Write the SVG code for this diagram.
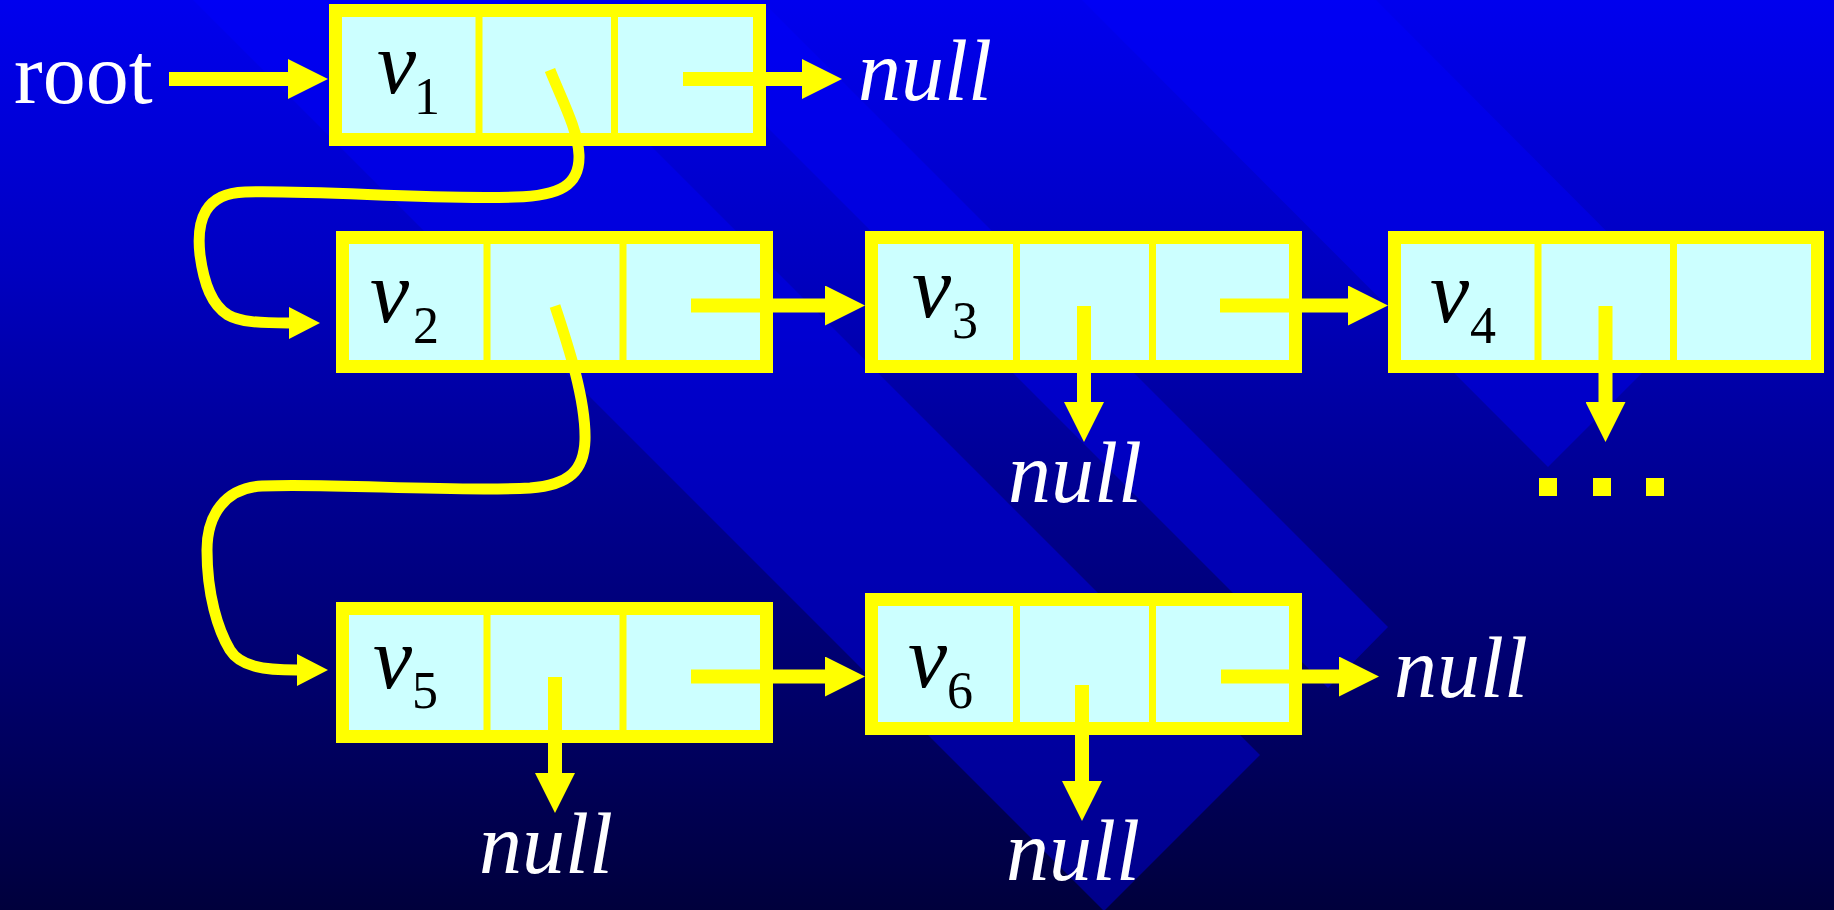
<svg xmlns="http://www.w3.org/2000/svg" width="1834" height="910" viewBox="0 0 1834 910">
<defs>
<linearGradient id="bg" x1="0" y1="0" x2="0" y2="1">
<stop offset="0" stop-color="#0000ee"/>
<stop offset="0.3" stop-color="#0000c0"/>
<stop offset="0.48" stop-color="#00009c"/>
<stop offset="0.77" stop-color="#000068"/>
<stop offset="1" stop-color="#00003c"/>
</linearGradient>
<marker id="ah" markerUnits="userSpaceOnUse" markerWidth="40" markerHeight="40" viewBox="0 0 40 40" refX="0" refY="20" orient="auto">
<path d="M0,0 L40,20 L0,40 z" fill="#ffff00"/>
</marker>
<marker id="ahs" markerUnits="userSpaceOnUse" markerWidth="31" markerHeight="32" viewBox="0 0 31 32" refX="0" refY="16" orient="auto">
<path d="M0,0 L31,16 L0,32 z" fill="#ffff00"/>
</marker>
</defs>
<style>
.stripe{fill:#0000ff;fill-opacity:0.4}
.box{fill:#ccffff;stroke:#ffff00;stroke-width:13}
.div{stroke:#ffff00;stroke-width:7}
.arr{stroke:#ffff00;stroke-width:14;fill:none;marker-end:url(#ah)}
.crv{stroke:#ffff00;stroke-width:11;fill:none;stroke-linecap:butt;marker-end:url(#ahs)}
.wt{font-family:"Liberation Serif","Times New Roman",serif;fill:#ffffff;font-size:86px}
.it{font-style:italic}
.v{font-family:"Liberation Serif","Times New Roman",serif;font-style:italic;font-size:88px;fill:#000000}
.sub{font-family:"Liberation Serif","Times New Roman",serif;font-size:52px;fill:#000000}
.dot{fill:#ffff00}
</style>
<rect x="0" y="0" width="1834" height="910" fill="url(#bg)"/>
<g id="background-stripes">
<polygon class="stripe" points="193,0 505,0 1260,755 1104,911"/>
<polygon class="stripe" points="640,0 761,0 1388,627 1328,688"/>
<polygon class="stripe" points="1082,0 1376,0 1695,320 1548,467"/>
</g>
<g id="node-root"><text class="wt" x="14" y="103">root</text></g>
<g id="node-v1">
<rect class="box" x="335.5" y="10.5" width="424" height="129"/>
<line class="div" x1="479" y1="17" x2="479" y2="133"/>
<line class="div" x1="614.5" y1="17" x2="614.5" y2="133"/>
<text class="v" x="377" y="93">v</text><text class="sub" x="414" y="114">1</text>
</g>
<g id="node-v2">
<rect class="box" x="342.5" y="237.5" width="424" height="129"/>
<line class="div" x1="487" y1="244" x2="487" y2="360"/>
<line class="div" x1="623" y1="244" x2="623" y2="360"/>
<text class="v" x="370" y="322">v</text><text class="sub" x="413" y="343">2</text>
</g>
<g id="node-v3">
<rect class="box" x="871.5" y="237.5" width="424" height="129"/>
<line class="div" x1="1016.5" y1="244" x2="1016.5" y2="360"/>
<line class="div" x1="1152.5" y1="244" x2="1152.5" y2="360"/>
<text class="v" x="912" y="317">v</text><text class="sub" x="952" y="338">3</text>
</g>
<g id="node-v4">
<rect class="box" x="1394.5" y="237.5" width="423" height="129"/>
<line class="div" x1="1538" y1="244" x2="1538" y2="360"/>
<line class="div" x1="1673.5" y1="244" x2="1673.5" y2="360"/>
<text class="v" x="1430" y="322">v</text><text class="sub" x="1470" y="343">4</text>
</g>
<g id="node-v5">
<rect class="box" x="342.5" y="608.5" width="424" height="128"/>
<line class="div" x1="487" y1="615" x2="487" y2="730"/>
<line class="div" x1="623" y1="615" x2="623" y2="730"/>
<text class="v" x="373" y="688">v</text><text class="sub" x="412" y="708">5</text>
</g>
<g id="node-v6">
<rect class="box" x="871.5" y="599.5" width="424" height="129"/>
<line class="div" x1="1016.5" y1="606" x2="1016.5" y2="722"/>
<line class="div" x1="1152.5" y1="606" x2="1152.5" y2="722"/>
<text class="v" x="908" y="687">v</text><text class="sub" x="947" y="708">6</text>
</g>
<g id="node-null1"><text class="wt it" x="858" y="100">null</text></g>
<g id="node-null3"><text class="wt it" x="1008" y="502">null</text></g>
<g id="node-null5"><text class="wt it" x="479" y="873">null</text></g>
<g id="node-null6b"><text class="wt it" x="1006" y="880">null</text></g>
<g id="node-null6r"><text class="wt it" x="1394" y="697">null</text></g>
<g id="node-dots">
<rect class="dot" x="1539" y="478" width="18" height="18"/>
<rect class="dot" x="1593" y="478" width="18" height="18"/>
<rect class="dot" x="1646" y="478" width="18" height="18"/>
</g>
<g id="connectors">
<path class="arr" d="M169,79 H288"/>
<path class="arr" d="M683,79 H802"/>
<path class="arr" d="M691,305.5 H825"/>
<path class="arr" d="M1220,305.5 H1348"/>
<path class="arr" d="M1084,306 V402"/>
<path class="arr" d="M1605.5,306 V402"/>
<path class="arr" d="M555,677 V773"/>
<path class="arr" d="M691,676.5 H825"/>
<path class="arr" d="M1082,685 V781"/>
<path class="arr" d="M1221,676.5 H1339"/>
<path class="crv" d="M550,70 C562,100 578,130 579,155 C580,185 560,196 515,197 C430,200 320,190 245,192 C205,193 196,220 200,255 C204,285 212,305 228,315 C240,322 260,323 289,323"/>
<path class="crv" d="M555,306 C568,345 586,400 585,440 C584,470 570,485 530,488 C450,492 330,483 262,486 C225,488 207,515 207,550 C207,595 218,630 230,650 C240,666 262,670 297,670"/>
</g>
</svg>
